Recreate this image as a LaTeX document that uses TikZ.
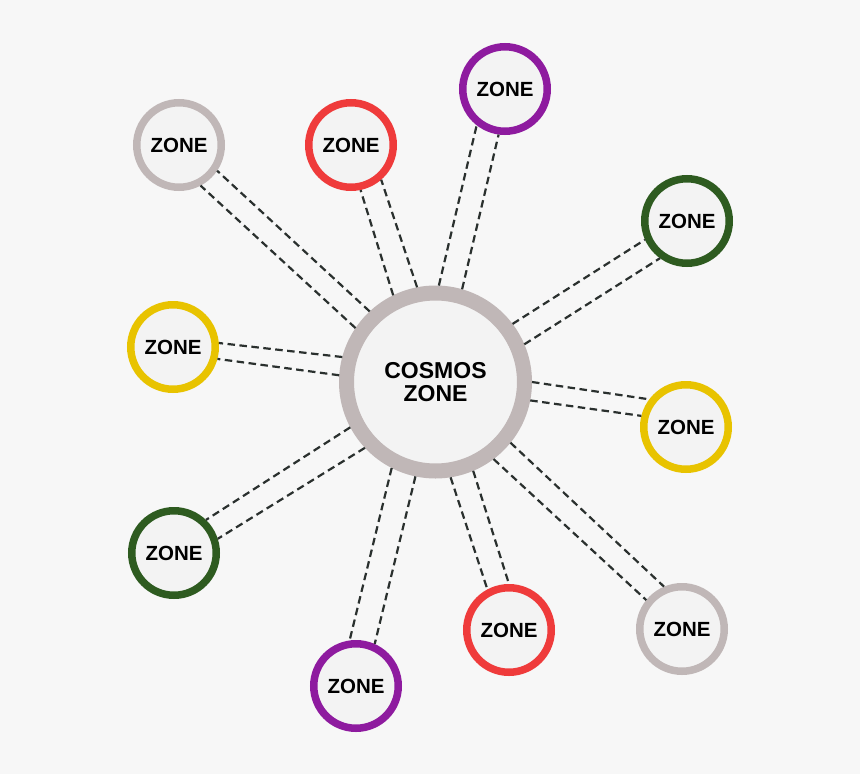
\documentclass[tikz,border=0pt]{standalone}
\usepackage{fontspec}
\setmainfont{Liberation Sans}
\definecolor{bgc}{HTML}{F7F7F7}
\definecolor{innerc}{HTML}{F3F3F3}
\definecolor{ringgray}{HTML}{C0B7B7}
\definecolor{ringred}{HTML}{EF3B3B}
\definecolor{ringpurple}{HTML}{8E1B9F}
\definecolor{ringgreen}{HTML}{2E5B20}
\definecolor{ringyellow}{HTML}{E8C300}
\definecolor{linkc}{HTML}{2A302E}
\tikzset{
  hub/.style={circle, draw=ringgray, fill=innerc, line width=15pt, minimum size=178pt,
    align=center, font=\fontsize{23}{22.5}\selectfont\bfseries},
  zone/.style={circle, draw=#1, fill=innerc, line width=7.5pt, minimum size=84.5pt,
    font=\fontsize{20.5}{22}\selectfont\bfseries},
  link/.style={draw=linkc, line width=2.2pt, dash pattern=on 7.5pt off 4.5pt}
}
\begin{document}
\begin{tikzpicture}[x=1pt,y=-1pt]
\fill[bgc] (0,0) rectangle (860,774);
\useasboundingbox (0,0) rectangle (860,774);
\node[hub] (c) at (435.5,382) {COSMOS\\ZONE};
\node[zone=ringgray]   (s1)  at (179,145) {ZONE};
\node[zone=ringred]    (s2)  at (351,145) {ZONE};
\node[zone=ringpurple] (s3)  at (505,89)  {ZONE};
\node[zone=ringgreen]  (s4)  at (687,221) {ZONE};
\node[zone=ringyellow] (s5)  at (173,347) {ZONE};
\node[zone=ringyellow] (s6)  at (686,427) {ZONE};
\node[zone=ringgreen]  (s7)  at (174,553) {ZONE};
\node[zone=ringpurple] (s8)  at (356,686) {ZONE};
\node[zone=ringred]    (s9)  at (509,630) {ZONE};
\node[zone=ringgray]   (s10) at (682,629) {ZONE};
\draw[link] (c.133)   -- (s1.-34.2);
\draw[link] (c.146.8) -- (s1.-62.3);
\draw[link] (c.116.3) -- (s2.-78.7);
\draw[link] (c.101.5) -- (s2.-49.2);
\draw[link] (c.88.3)  -- (s3.232.1);
\draw[link] (c.74)    -- (s3.262.9);
\draw[link] (c.37)    -- (s4.204.3);
\draw[link] (c.23.4)  -- (s4.234.8);
\draw[link] (c.165.5) -- (s5.5.2);
\draw[link] (c.176.2) -- (s5.-15.6);
\draw[link] (c.-0.6)  -- (s6.143.1);
\draw[link] (c.-11.7) -- (s6.166.4);
\draw[link] (c.208.4) -- (s7.46.7);
\draw[link] (c.223.2) -- (s7.18.4);
\draw[link] (c.243.1) -- (s8.98.3);
\draw[link] (c.258.8) -- (s8.66.8);
\draw[link] (c.-81.4) -- (s9.118.1);
\draw[link] (c.-67.1) -- (s9.90.9);
\draw[link] (c.-39.8) -- (s10.113.8);
\draw[link] (c.-53.7) -- (s10.141.6);
\end{tikzpicture}
\end{document}
